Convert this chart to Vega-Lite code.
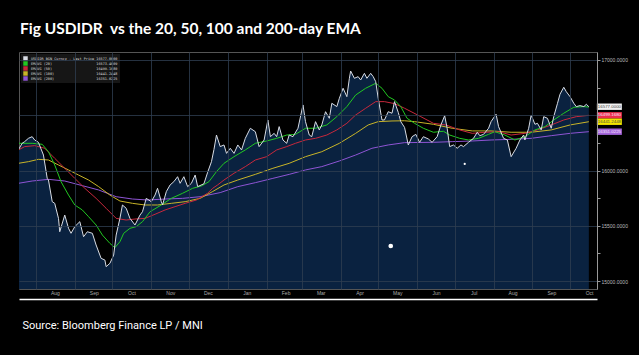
{
"$schema":"https://vega.github.io/schema/vega-lite/v6.json",
"width":578,"height":237,
"autosize":{"type":"none"},
"padding":{"left":19,"top":52,"right":42,"bottom":66},
"background":"black",
"config":{"view":{"stroke":"#555","fill":"black"}},
"title":{"text":"Fig USDIDR\u00a0\u00a0vs the 20, 50, 100 and 200-day EMA","anchor":"start","frame":"group","color":"white","font":"Lato","fontSize":15.5,"fontWeight":"bold","offset":15,"dx":1},
"data":{"values":[
{"d":"2024-07-18","s":"E200","v":15884},{"d":"2024-07-29","s":"E200","v":15905},{"d":"2024-08-11","s":"E200","v":15920},{"d":"2024-08-24","s":"E200","v":15905},{"d":"2024-09-07","s":"E200","v":15863},{"d":"2024-09-20","s":"E200","v":15824},{"d":"2024-10-04","s":"E200","v":15763},{"d":"2024-10-17","s":"E200","v":15742},{"d":"2024-10-29","s":"E200","v":15733},{"d":"2024-11-12","s":"E200","v":15742},{"d":"2024-11-26","s":"E200","v":15748},{"d":"2024-12-10","s":"E200","v":15763},{"d":"2024-12-26","s":"E200","v":15800},{"d":"2025-01-09","s":"E200","v":15854},{"d":"2025-01-23","s":"E200","v":15890},{"d":"2025-02-06","s":"E200","v":15929},{"d":"2025-02-19","s":"E200","v":15965},{"d":"2025-03-04","s":"E200","v":16005},{"d":"2025-03-17","s":"E200","v":16035},{"d":"2025-03-31","s":"E200","v":16086},{"d":"2025-04-13","s":"E200","v":16140},{"d":"2025-04-26","s":"E200","v":16201},{"d":"2025-05-09","s":"E200","v":16231},{"d":"2025-05-22","s":"E200","v":16252},{"d":"2025-06-14","s":"E200","v":16255},{"d":"2025-06-29","s":"E200","v":16261},{"d":"2025-07-15","s":"E200","v":16267},{"d":"2025-07-30","s":"E200","v":16276},{"d":"2025-08-15","s":"E200","v":16282},{"d":"2025-08-31","s":"E200","v":16291},{"d":"2025-09-16","s":"E200","v":16315},{"d":"2025-10-01","s":"E200","v":16336},{"d":"2025-10-16","s":"E200","v":16351.02},
{"d":"2024-07-18","s":"E100","v":16065},{"d":"2024-07-26","s":"E100","v":16080},{"d":"2024-08-03","s":"E100","v":16101},{"d":"2024-08-11","s":"E100","v":16095},{"d":"2024-08-19","s":"E100","v":16050},{"d":"2024-08-27","s":"E100","v":16005},{"d":"2024-09-04","s":"E100","v":15959},{"d":"2024-09-12","s":"E100","v":15914},{"d":"2024-09-20","s":"E100","v":15854},{"d":"2024-09-29","s":"E100","v":15778},{"d":"2024-10-07","s":"E100","v":15724},{"d":"2024-10-17","s":"E100","v":15703},{"d":"2024-10-27","s":"E100","v":15688},{"d":"2024-11-06","s":"E100","v":15688},{"d":"2024-11-17","s":"E100","v":15703},{"d":"2024-11-28","s":"E100","v":15718},{"d":"2024-12-10","s":"E100","v":15748},{"d":"2024-12-20","s":"E100","v":15810},{"d":"2024-12-29","s":"E100","v":15869},{"d":"2025-01-09","s":"E100","v":15914},{"d":"2025-01-23","s":"E100","v":15965},{"d":"2025-02-06","s":"E100","v":16020},{"d":"2025-02-19","s":"E100","v":16065},{"d":"2025-03-04","s":"E100","v":16125},{"d":"2025-03-17","s":"E100","v":16170},{"d":"2025-03-31","s":"E100","v":16246},{"d":"2025-04-13","s":"E100","v":16336},{"d":"2025-04-23","s":"E100","v":16412},{"d":"2025-05-01","s":"E100","v":16442},{"d":"2025-05-12","s":"E100","v":16448},{"d":"2025-05-22","s":"E100","v":16450},{"d":"2025-05-30","s":"E100","v":16442},{"d":"2025-06-14","s":"E100","v":16418},{"d":"2025-06-29","s":"E100","v":16382},{"d":"2025-07-15","s":"E100","v":16358},{"d":"2025-07-30","s":"E100","v":16358},{"d":"2025-08-15","s":"E100","v":16346},{"d":"2025-08-31","s":"E100","v":16346},{"d":"2025-09-16","s":"E100","v":16367},{"d":"2025-10-01","s":"E100","v":16412},{"d":"2025-10-16","s":"E100","v":16441.24},
{"d":"2024-07-18","s":"E50","v":16186},{"d":"2024-07-23","s":"E50","v":16216},{"d":"2024-07-31","s":"E50","v":16225},{"d":"2024-08-08","s":"E50","v":16201},{"d":"2024-08-16","s":"E50","v":16110},{"d":"2024-08-24","s":"E50","v":16020},{"d":"2024-09-01","s":"E50","v":15929},{"d":"2024-09-09","s":"E50","v":15839},{"d":"2024-09-18","s":"E50","v":15748},{"d":"2024-09-26","s":"E50","v":15658},{"d":"2024-10-04","s":"E50","v":15567},{"d":"2024-10-12","s":"E50","v":15552},{"d":"2024-10-19","s":"E50","v":15561},{"d":"2024-10-27","s":"E50","v":15567},{"d":"2024-11-04","s":"E50","v":15604},{"d":"2024-11-12","s":"E50","v":15643},{"d":"2024-11-20","s":"E50","v":15673},{"d":"2024-11-28","s":"E50","v":15703},{"d":"2024-12-07","s":"E50","v":15733},{"d":"2024-12-11","s":"E50","v":15760},{"d":"2024-12-16","s":"E50","v":15795},{"d":"2024-12-20","s":"E50","v":15839},{"d":"2024-12-24","s":"E50","v":15870},{"d":"2024-12-29","s":"E50","v":15914},{"d":"2025-01-06","s":"E50","v":15975},{"d":"2025-01-15","s":"E50","v":16035},{"d":"2025-01-23","s":"E50","v":16095},{"d":"2025-02-01","s":"E50","v":16125},{"d":"2025-02-09","s":"E50","v":16186},{"d":"2025-02-17","s":"E50","v":16216},{"d":"2025-02-24","s":"E50","v":16246},{"d":"2025-03-04","s":"E50","v":16276},{"d":"2025-03-12","s":"E50","v":16291},{"d":"2025-03-21","s":"E50","v":16321},{"d":"2025-03-29","s":"E50","v":16367},{"d":"2025-04-06","s":"E50","v":16427},{"d":"2025-04-13","s":"E50","v":16502},{"d":"2025-04-21","s":"E50","v":16563},{"d":"2025-04-29","s":"E50","v":16623},{"d":"2025-05-06","s":"E50","v":16623},{"d":"2025-05-14","s":"E50","v":16605},{"d":"2025-05-22","s":"E50","v":16563},{"d":"2025-06-04","s":"E50","v":16487},{"d":"2025-06-14","s":"E50","v":16427},{"d":"2025-06-24","s":"E50","v":16412},{"d":"2025-07-05","s":"E50","v":16367},{"d":"2025-07-15","s":"E50","v":16336},{"d":"2025-07-25","s":"E50","v":16346},{"d":"2025-08-05","s":"E50","v":16351},{"d":"2025-08-15","s":"E50","v":16321},{"d":"2025-08-26","s":"E50","v":16336},{"d":"2025-09-05","s":"E50","v":16367},{"d":"2025-09-16","s":"E50","v":16412},{"d":"2025-09-26","s":"E50","v":16457},{"d":"2025-10-06","s":"E50","v":16487},{"d":"2025-10-16","s":"E50","v":16499.17},
{"d":"2024-07-18","s":"E20","v":16246},{"d":"2024-07-29","s":"E20","v":16246},{"d":"2024-08-06","s":"E20","v":16237},{"d":"2024-08-11","s":"E20","v":16170},{"d":"2024-08-16","s":"E20","v":16050},{"d":"2024-08-21","s":"E20","v":15899},{"d":"2024-08-27","s":"E20","v":15778},{"d":"2024-09-01","s":"E20","v":15688},{"d":"2024-09-07","s":"E20","v":15643},{"d":"2024-09-12","s":"E20","v":15582},{"d":"2024-09-18","s":"E20","v":15507},{"d":"2024-09-23","s":"E20","v":15416},{"d":"2024-09-29","s":"E20","v":15341},{"d":"2024-10-03","s":"E20","v":15302},{"d":"2024-10-07","s":"E20","v":15356},{"d":"2024-10-10","s":"E20","v":15432},{"d":"2024-10-15","s":"E20","v":15477},{"d":"2024-10-20","s":"E20","v":15492},{"d":"2024-10-25","s":"E20","v":15537},{"d":"2024-10-31","s":"E20","v":15627},{"d":"2024-11-09","s":"E20","v":15688},{"d":"2024-11-17","s":"E20","v":15748},{"d":"2024-11-26","s":"E20","v":15794},{"d":"2024-12-04","s":"E20","v":15839},{"d":"2024-12-11","s":"E20","v":15860},{"d":"2024-12-17","s":"E20","v":15899},{"d":"2024-12-23","s":"E20","v":15990},{"d":"2024-12-29","s":"E20","v":16065},{"d":"2025-01-06","s":"E20","v":16125},{"d":"2025-01-15","s":"E20","v":16186},{"d":"2025-01-23","s":"E20","v":16246},{"d":"2025-02-01","s":"E20","v":16267},{"d":"2025-02-09","s":"E20","v":16291},{"d":"2025-02-17","s":"E20","v":16321},{"d":"2025-02-24","s":"E20","v":16327},{"d":"2025-03-04","s":"E20","v":16382},{"d":"2025-03-12","s":"E20","v":16382},{"d":"2025-03-21","s":"E20","v":16412},{"d":"2025-03-29","s":"E20","v":16487},{"d":"2025-04-06","s":"E20","v":16578},{"d":"2025-04-13","s":"E20","v":16683},{"d":"2025-04-21","s":"E20","v":16744},{"d":"2025-04-29","s":"E20","v":16789},{"d":"2025-05-04","s":"E20","v":16744},{"d":"2025-05-09","s":"E20","v":16668},{"d":"2025-05-14","s":"E20","v":16638},{"d":"2025-05-19","s":"E20","v":16578},{"d":"2025-05-24","s":"E20","v":16472},{"d":"2025-05-30","s":"E20","v":16427},{"d":"2025-06-06","s":"E20","v":16382},{"d":"2025-06-14","s":"E20","v":16346},{"d":"2025-06-22","s":"E20","v":16355},{"d":"2025-06-27","s":"E20","v":16321},{"d":"2025-07-05","s":"E20","v":16291},{"d":"2025-07-12","s":"E20","v":16276},{"d":"2025-07-20","s":"E20","v":16291},{"d":"2025-07-28","s":"E20","v":16327},{"d":"2025-08-02","s":"E20","v":16351},{"d":"2025-08-10","s":"E20","v":16321},{"d":"2025-08-18","s":"E20","v":16276},{"d":"2025-08-26","s":"E20","v":16306},{"d":"2025-09-03","s":"E20","v":16367},{"d":"2025-09-11","s":"E20","v":16397},{"d":"2025-09-18","s":"E20","v":16457},{"d":"2025-09-26","s":"E20","v":16518},{"d":"2025-10-04","s":"E20","v":16572},{"d":"2025-10-12","s":"E20","v":16578},{"d":"2025-10-16","s":"E20","v":16573.46},
{"d":"2024-07-18","s":"P","v":16186},{"d":"2024-07-21","s":"P","v":16246},{"d":"2024-07-23","s":"P","v":16261},{"d":"2024-07-26","s":"P","v":16291},{"d":"2024-07-29","s":"P","v":16306},{"d":"2024-07-31","s":"P","v":16276},{"d":"2024-08-03","s":"P","v":16255},{"d":"2024-08-07","s":"P","v":16140},{"d":"2024-08-10","s":"P","v":15929},{"d":"2024-08-11","s":"P","v":15914},{"d":"2024-08-14","s":"P","v":15718},{"d":"2024-08-16","s":"P","v":15703},{"d":"2024-08-19","s":"P","v":15567},{"d":"2024-08-20","s":"P","v":15446},{"d":"2024-08-24","s":"P","v":15597},{"d":"2024-08-27","s":"P","v":15477},{"d":"2024-08-29","s":"P","v":15432},{"d":"2024-09-01","s":"P","v":15492},{"d":"2024-09-05","s":"P","v":15537},{"d":"2024-09-08","s":"P","v":15401},{"d":"2024-09-11","s":"P","v":15446},{"d":"2024-09-15","s":"P","v":15432},{"d":"2024-09-18","s":"P","v":15326},{"d":"2024-09-22","s":"P","v":15205},{"d":"2024-09-25","s":"P","v":15190},{"d":"2024-09-26","s":"P","v":15130},{"d":"2024-09-29","s":"P","v":15160},{"d":"2024-10-02","s":"P","v":15235},{"d":"2024-10-04","s":"P","v":15416},{"d":"2024-10-07","s":"P","v":15567},{"d":"2024-10-09","s":"P","v":15688},{"d":"2024-10-12","s":"P","v":15658},{"d":"2024-10-15","s":"P","v":15567},{"d":"2024-10-19","s":"P","v":15507},{"d":"2024-10-23","s":"P","v":15597},{"d":"2024-10-25","s":"P","v":15627},{"d":"2024-10-28","s":"P","v":15748},{"d":"2024-11-01","s":"P","v":15718},{"d":"2024-11-04","s":"P","v":15778},{"d":"2024-11-06","s":"P","v":15839},{"d":"2024-11-09","s":"P","v":15718},{"d":"2024-11-10","s":"P","v":15688},{"d":"2024-11-13","s":"P","v":15809},{"d":"2024-11-16","s":"P","v":15869},{"d":"2024-11-19","s":"P","v":15899},{"d":"2024-11-22","s":"P","v":15944},{"d":"2024-11-24","s":"P","v":15884},{"d":"2024-11-27","s":"P","v":15944},{"d":"2024-11-30","s":"P","v":15854},{"d":"2024-12-03","s":"P","v":15884},{"d":"2024-12-06","s":"P","v":15959},{"d":"2024-12-08","s":"P","v":15854},{"d":"2024-12-13","s":"P","v":15880},{"d":"2024-12-16","s":"P","v":15985},{"d":"2024-12-19","s":"P","v":16080},{"d":"2024-12-21","s":"P","v":16190},{"d":"2024-12-23","s":"P","v":16321},{"d":"2024-12-26","s":"P","v":16216},{"d":"2024-12-29","s":"P","v":16231},{"d":"2024-12-31","s":"P","v":16155},{"d":"2025-01-03","s":"P","v":16201},{"d":"2025-01-06","s":"P","v":16155},{"d":"2025-01-09","s":"P","v":16231},{"d":"2025-01-12","s":"P","v":16186},{"d":"2025-01-15","s":"P","v":16291},{"d":"2025-01-19","s":"P","v":16382},{"d":"2025-01-23","s":"P","v":16351},{"d":"2025-01-26","s":"P","v":16216},{"d":"2025-01-30","s":"P","v":16276},{"d":"2025-02-02","s":"P","v":16457},{"d":"2025-02-04","s":"P","v":16306},{"d":"2025-02-07","s":"P","v":16336},{"d":"2025-02-09","s":"P","v":16306},{"d":"2025-02-11","s":"P","v":16397},{"d":"2025-02-14","s":"P","v":16276},{"d":"2025-02-17","s":"P","v":16246},{"d":"2025-02-19","s":"P","v":16321},{"d":"2025-02-22","s":"P","v":16306},{"d":"2025-02-26","s":"P","v":16382},{"d":"2025-03-02","s":"P","v":16593},{"d":"2025-03-04","s":"P","v":16442},{"d":"2025-03-07","s":"P","v":16321},{"d":"2025-03-09","s":"P","v":16306},{"d":"2025-03-12","s":"P","v":16442},{"d":"2025-03-15","s":"P","v":16367},{"d":"2025-03-17","s":"P","v":16412},{"d":"2025-03-20","s":"P","v":16532},{"d":"2025-03-23","s":"P","v":16472},{"d":"2025-03-25","s":"P","v":16608},{"d":"2025-03-29","s":"P","v":16578},{"d":"2025-03-31","s":"P","v":16653},{"d":"2025-04-03","s":"P","v":16744},{"d":"2025-04-06","s":"P","v":16668},{"d":"2025-04-08","s":"P","v":16834},{"d":"2025-04-09","s":"P","v":16900},{"d":"2025-04-12","s":"P","v":16834},{"d":"2025-04-15","s":"P","v":16849},{"d":"2025-04-17","s":"P","v":16819},{"d":"2025-04-20","s":"P","v":16879},{"d":"2025-04-22","s":"P","v":16834},{"d":"2025-04-25","s":"P","v":16879},{"d":"2025-04-27","s":"P","v":16849},{"d":"2025-04-29","s":"P","v":16804},{"d":"2025-05-01","s":"P","v":16653},{"d":"2025-05-04","s":"P","v":16457},{"d":"2025-05-06","s":"P","v":16457},{"d":"2025-05-09","s":"P","v":16532},{"d":"2025-05-12","s":"P","v":16518},{"d":"2025-05-14","s":"P","v":16623},{"d":"2025-05-17","s":"P","v":16525},{"d":"2025-05-19","s":"P","v":16442},{"d":"2025-05-22","s":"P","v":16390},{"d":"2025-05-25","s":"P","v":16231},{"d":"2025-05-28","s":"P","v":16306},{"d":"2025-05-31","s":"P","v":16327},{"d":"2025-06-03","s":"P","v":16255},{"d":"2025-06-06","s":"P","v":16306},{"d":"2025-06-10","s":"P","v":16285},{"d":"2025-06-13","s":"P","v":16255},{"d":"2025-06-17","s":"P","v":16306},{"d":"2025-06-20","s":"P","v":16412},{"d":"2025-06-23","s":"P","v":16496},{"d":"2025-06-25","s":"P","v":16382},{"d":"2025-06-27","s":"P","v":16216},{"d":"2025-06-30","s":"P","v":16231},{"d":"2025-07-03","s":"P","v":16201},{"d":"2025-07-06","s":"P","v":16231},{"d":"2025-07-08","s":"P","v":16216},{"d":"2025-07-12","s":"P","v":16255},{"d":"2025-07-16","s":"P","v":16291},{"d":"2025-07-19","s":"P","v":16346},{"d":"2025-07-21","s":"P","v":16315},{"d":"2025-07-24","s":"P","v":16327},{"d":"2025-07-28","s":"P","v":16382},{"d":"2025-07-30","s":"P","v":16442},{"d":"2025-08-03","s":"P","v":16509},{"d":"2025-08-05","s":"P","v":16397},{"d":"2025-08-09","s":"P","v":16291},{"d":"2025-08-12","s":"P","v":16276},{"d":"2025-08-15","s":"P","v":16125},{"d":"2025-08-19","s":"P","v":16201},{"d":"2025-08-22","s":"P","v":16276},{"d":"2025-08-25","s":"P","v":16321},{"d":"2025-08-26","s":"P","v":16276},{"d":"2025-08-29","s":"P","v":16382},{"d":"2025-08-31","s":"P","v":16502},{"d":"2025-09-03","s":"P","v":16418},{"d":"2025-09-05","s":"P","v":16427},{"d":"2025-09-08","s":"P","v":16367},{"d":"2025-09-10","s":"P","v":16487},{"d":"2025-09-13","s":"P","v":16472},{"d":"2025-09-16","s":"P","v":16382},{"d":"2025-09-18","s":"P","v":16487},{"d":"2025-09-21","s":"P","v":16608},{"d":"2025-09-23","s":"P","v":16690},{"d":"2025-09-26","s":"P","v":16753},{"d":"2025-09-28","s":"P","v":16713},{"d":"2025-10-01","s":"P","v":16668},{"d":"2025-10-04","s":"P","v":16608},{"d":"2025-10-06","s":"P","v":16578},{"d":"2025-10-09","s":"P","v":16587},{"d":"2025-10-12","s":"P","v":16578},{"d":"2025-10-14","s":"P","v":16599},{"d":"2025-10-16","s":"P","v":16577}
]},
"encoding":{
"x":{"field":"d","type":"temporal","scale":{"domain":[{"year":2024,"month":7,"date":18,"hours":12},{"year":2025,"month":10,"date":22,"hours":12}]},
"axis":{"orient":"bottom","tickCount":{"interval":"month","step":1},"format":"%b","labelOffset":19,"labelFont":"Liberation Sans","labelFontSize":5,"labelColor":"#aaa","offset":10,"domainColor":"white","domainWidth":1.5,"ticks":false,"labelPadding":-9,"grid":true,"gridColor":"#2e3d50","gridWidth":0.8,"labelOverlap":false,"labelFlush":false,"labelBound":false,"title":"Source: Bloomberg Finance LP / MNI","titleAnchor":"start","titleAlign":"left","titleBaseline":"alphabetic","titleX":3,"titleY":29,"titleFont":"Roboto","titleFontSize":11,"titleFontWeight":"normal","titleColor":"white","zindex":1}},
"y":{"field":"v","type":"quantitative","scale":{"domain":[14928,17072],"zero":false,"nice":false},
"axis":{"orient":"right","values":[15000,15250,15500,15750,16000,16250,16500,16750,17000],"format":".4f","labelExpr":"datum.value % 500 === 0 && datum.value !== 16500 ? datum.label : ''","labelFont":"Liberation Sans","labelFontSize":5,"labelColor":"#bbb","labelPadding":1,"domainColor":"#999","tickColor":"#999","tickSize":3,"grid":true,"gridColor":"#2e3d50","gridWidth":0.8,"gridOpacity":{"condition":{"test":"datum.value % 500 === 0","value":1},"value":0},"title":null,"zindex":1}}
},
"layer":[
{"transform":[{"filter":"datum.s === 'P'"}],"mark":{"type":"area","color":"#0a2240","clip":true},"encoding":{"y2":{"datum":14928}}},
{"mark":{"type":"line","strokeWidth":1,"clip":true},"encoding":{"color":{"field":"s","type":"nominal","scale":{"domain":["P","E20","E50","E100","E200"],"range":["#d8dce4","#22c822","#c8283c","#c8b428","#8e54d4"]},
"legend":{"orient":"top-left","offset":2,"title":null,"fillColor":"#161616","padding":2,"rowPadding":0,"symbolType":"square","symbolSize":20,"symbolStrokeWidth":0,"labelFont":"DejaVu Sans Mono","labelFontSize":3.5,"labelColor":"#ddd","labelLimit":300,"labelOffset":3,
"labelExpr":"datum.value === 'P' ? 'USDIDR BGN Curncy - Last Price\u00a016577.0000' : datum.value === 'E20' ? 'EMAVG (20)\u00a0\u00a0\u00a0\u00a0\u00a0\u00a0\u00a0\u00a0\u00a0\u00a0\u00a0\u00a0\u00a0\u00a0\u00a0\u00a0\u00a0\u00a0\u00a0\u00a0\u00a016573.4609' : datum.value === 'E50' ? 'EMAVG (50)\u00a0\u00a0\u00a0\u00a0\u00a0\u00a0\u00a0\u00a0\u00a0\u00a0\u00a0\u00a0\u00a0\u00a0\u00a0\u00a0\u00a0\u00a0\u00a0\u00a0\u00a016499.1680' : datum.value === 'E100' ? 'EMAVG (100)\u00a0\u00a0\u00a0\u00a0\u00a0\u00a0\u00a0\u00a0\u00a0\u00a0\u00a0\u00a0\u00a0\u00a0\u00a0\u00a0\u00a0\u00a0\u00a0\u00a016441.2448' : 'EMAVG (200)\u00a0\u00a0\u00a0\u00a0\u00a0\u00a0\u00a0\u00a0\u00a0\u00a0\u00a0\u00a0\u00a0\u00a0\u00a0\u00a0\u00a0\u00a0\u00a0\u00a016351.0225'",
"encode":{"symbols":{"update":{"fill":{"scale":"color","field":"value"},"fillOpacity":{"value":1},"strokeWidth":{"value":0}}}}}}}},
{"data":{"values":[{"d":"2025-05-11","v":15317,"k":"big"},{"d":"2025-07-09","v":16059,"k":"small"}]},"mark":{"type":"circle","color":"white","opacity":1},"encoding":{"size":{"condition":{"test":"datum.k === 'big'","value":22},"value":5}}},
{"data":{"values":[{"d":"2025-10-16","s":"P","v":16577},{"d":"2025-10-16","s":"E50","v":16499.168},{"d":"2025-10-16","s":"E100","v":16441.2448},{"d":"2025-10-16","s":"E200","v":16351.0225}]},"mark":{"type":"point","shape":"M8,-3.2H33V3.2H8Z","size":4,"filled":true,"strokeWidth":0,"opacity":1,"clip":false},"encoding":{"fill":{"field":"s","type":"nominal","scale":{"domain":["P","E50","E100","E200"],"range":["#f2f2f2","#ee2f4e","#f2e600","#a466dc"]},"legend":null}}},
{"data":{"values":[{"d":"2025-10-16","s":"P","v":16577},{"d":"2025-10-16","s":"E50","v":16499.168},{"d":"2025-10-16","s":"E100","v":16441.2448},{"d":"2025-10-16","s":"E200","v":16351.0225}]},"mark":{"type":"text","dx":9,"align":"left","baseline":"middle","font":"Liberation Sans","fontSize":4.4},"encoding":{"text":{"field":"v","type":"quantitative","format":".4f"},"color":{"condition":{"test":"datum.s === 'P' || datum.s === 'E100'","value":"#444"},"value":"#fbe8ff"}}}
]
}
